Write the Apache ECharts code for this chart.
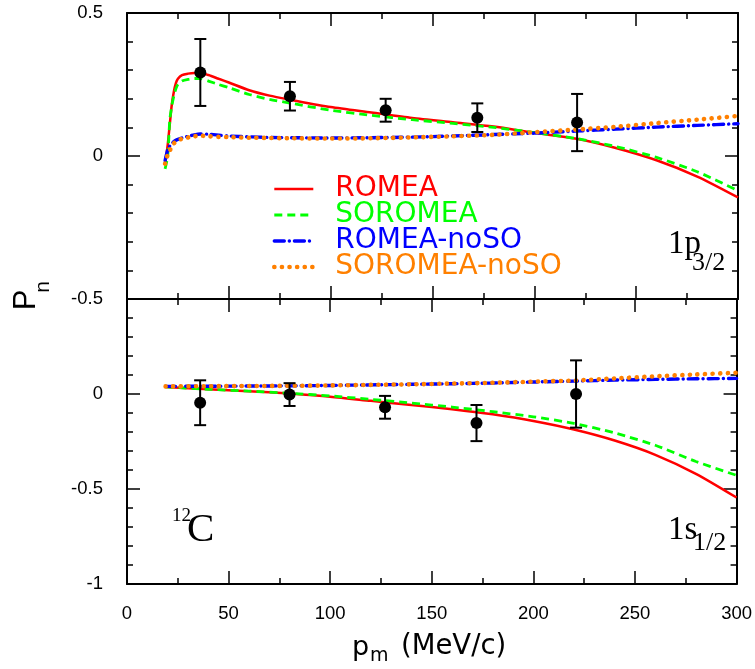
<!DOCTYPE html>
<html>
<head>
<meta charset="utf-8">
<script src="https://cdn.jsdelivr.net/npm/echarts@6/dist/echarts.min.js"></script>
<style>
html,body{margin:0;padding:0;background:#fff;}
#chart{width:755px;height:669px;}
</style>
</head>
<body>
<div id="chart"></div>
<script>
// ---------- DATA ----------
const seriesNames = ['ROMEA', 'SOROMEA', 'ROMEA-noSO', 'SOROMEA-noSO'];

// Top panel (1p3/2) theory curves
const topX = [18.7, 20, 21, 22, 23, 24, 25, 27, 30, 33, 36, 40, 45, 50, 60, 70, 80, 100, 120, 140, 160, 180, 200, 220, 240, 260, 280, 300];
const topRomea = [-0.027, 0.04, 0.11, 0.18, 0.225, 0.255, 0.27, 0.283, 0.288, 0.29, 0.29, 0.283, 0.27, 0.257, 0.23, 0.211, 0.197, 0.171, 0.152, 0.133, 0.118, 0.103, 0.081, 0.061, 0.028, -0.015, -0.072, -0.145];
const topSoromea = [-0.045, 0.0, 0.125, 0.175, 0.21, 0.235, 0.25, 0.262, 0.268, 0.271, 0.271, 0.262, 0.25, 0.239, 0.215, 0.198, 0.185, 0.16, 0.142, 0.127, 0.114, 0.1, 0.082, 0.062, 0.033, -0.005, -0.055, -0.121];
const topRomeaNoSO = [-0.016, 0.022, 0.035, 0.044, 0.05, 0.055, 0.058, 0.063, 0.069, 0.074, 0.077, 0.076, 0.073, 0.07, 0.067, 0.065, 0.064, 0.063, 0.064, 0.066, 0.07, 0.075, 0.08, 0.087, 0.094, 0.101, 0.107, 0.113];
const topSoromeaNoSO = [-0.027, 0.005, 0.019, 0.032, 0.044, 0.05, 0.055, 0.06, 0.065, 0.069, 0.071, 0.069, 0.067, 0.066, 0.064, 0.063, 0.062, 0.061, 0.062, 0.065, 0.069, 0.074, 0.083, 0.092, 0.102, 0.115, 0.127, 0.14];

// Bottom panel (1s1/2) theory curves
const botX = [19, 40, 60, 80, 100, 120, 140, 160, 180, 200, 220, 240, 260, 280, 300];
const botRomea = [0.037, 0.025, 0.015, 0.002, -0.014, -0.036, -0.058, -0.08, -0.107, -0.142, -0.187, -0.245, -0.32, -0.42, -0.545];
const botSoromea = [0.037, 0.025, 0.015, 0.004, -0.01, -0.028, -0.048, -0.069, -0.093, -0.12, -0.155, -0.205, -0.27, -0.355, -0.428];
const botRomeaNoSO = [0.04, 0.041, 0.042, 0.043, 0.045, 0.048, 0.051, 0.054, 0.058, 0.063, 0.068, 0.073, 0.077, 0.08, 0.082];
const botSoromeaNoSO = [0.04, 0.041, 0.042, 0.043, 0.045, 0.048, 0.051, 0.055, 0.059, 0.065, 0.071, 0.082, 0.093, 0.103, 0.112];

// Experimental points
const expX = [36, 80, 127, 172, 221];
const expTopY = [0.292, 0.209, 0.160, 0.134, 0.117];
const expTopErr = [0.117, 0.05, 0.04, 0.05, 0.1];
const expBotY = [-0.046, -0.003, -0.07, -0.153, 0.0];
const expBotErr = [0.118, 0.06, 0.06, 0.095, 0.177];

// ---------- STYLES ----------
const colors = ['#ff0000', '#00ff00', '#0000ff', '#ff8000'];
const lineStyles = [
  {width: 2.5, type: 'solid'},
  {width: 2.8, type: [8, 5]},
  {width: 3.4, type: [10, 5, 0.1, 5], cap: 'round'},
  {width: 4.6, type: [0.1, 7.5], cap: 'round'}
];

function zip(xs, ys) { return xs.map((x, i) => [x, ys[i]]); }
function zip3(xs, ys, es) { return xs.map((x, i) => [x, ys[i], es[i]]); }

const topCurves = [topRomea, topSoromea, topRomeaNoSO, topSoromeaNoSO];
const botCurves = [botRomea, botSoromea, botRomeaNoSO, botSoromeaNoSO];

const series = [];
[[topX, topCurves, 0], [botX, botCurves, 2]].forEach(([xs, curves, ai]) => {
  curves.forEach((ys, k) => {
    series.push({
      type: 'line', name: seriesNames[k], xAxisIndex: ai, yAxisIndex: ai,
      data: zip(xs, ys), showSymbol: false, symbol: 'none', smooth: 0.25,
      color: colors[k],
      lineStyle: Object.assign({color: colors[k]}, lineStyles[k]),
      z: 2 + k, silent: true
    });
  });
});

function errRender(params, api) {
  const x = api.value(0), y = api.value(1), e = api.value(2);
  const p1 = api.coord([x, y + e]);
  const p2 = api.coord([x, y - e]);
  const hw = 6;
  const st = {stroke: '#000', lineWidth: 2};
  return {type: 'group', children: [
    {type: 'line', shape: {x1: p1[0], y1: p1[1], x2: p2[0], y2: p2[1]}, style: st},
    {type: 'line', shape: {x1: p1[0] - hw, y1: p1[1], x2: p1[0] + hw, y2: p1[1]}, style: st},
    {type: 'line', shape: {x1: p2[0] - hw, y1: p2[1], x2: p2[0] + hw, y2: p2[1]}, style: st}
  ]};
}
[[expTopY, expTopErr, 0], [expBotY, expBotErr, 2]].forEach(([ys, es, ai]) => {
  series.push({type: 'custom', xAxisIndex: ai, yAxisIndex: ai, renderItem: errRender,
    data: zip3(expX, ys, es), z: 10, silent: true});
  series.push({type: 'scatter', xAxisIndex: ai, yAxisIndex: ai, data: zip(expX, ys),
    symbol: 'circle', symbolSize: 12, itemStyle: {color: '#000', opacity: 1}, z: 11, silent: true});
});

// ---------- AXES ----------
const axisLine = {show: true, onZero: false, lineStyle: {color: '#000', width: 2}};
const tickX = {show: true, inside: true, length: 13, lineStyle: {color: '#000', width: 1.5}};
const minorX = {show: true, splitNumber: 2, length: 6, lineStyle: {color: '#000', width: 1.5}};
const tickY = {show: true, inside: true, length: 13, lineStyle: {color: '#000', width: 1.5}};
const minorY = {show: true, splitNumber: 5, length: 6, lineStyle: {color: '#000', width: 1.5}};
const labelFont = {color: '#000', fontSize: 18.5, fontFamily: 'Liberation Sans, Arial, sans-serif'};

function xAx(grid, pos, showLabel) {
  return {type: 'value', gridIndex: grid, position: pos, min: 0, max: 300, interval: 50,
    axisLine: axisLine, axisTick: tickX, minorTick: minorX, splitLine: {show: false},
    axisLabel: Object.assign({show: showLabel, margin: 20}, labelFont)};
}
function yAx(grid, pos, min, showLabel) {
  return {type: 'value', gridIndex: grid, position: pos, min: min, max: 0.5, interval: 0.5,
    axisLine: axisLine, axisTick: tickY, minorTick: minorY, splitLine: {show: false},
    axisLabel: Object.assign({show: showLabel, margin: 24, showMaxLabel: grid === 0}, labelFont)};
}

const serif = 'Liberation Serif, Times New Roman, serif';
const sans = 'DejaVu Sans, sans-serif';
function txt(x, y, t, size, fam, rot) {
  const el = {type: 'text', x: x, y: y, silent: true, z: 100,
    style: {text: t, x: 0, y: 0, font: size + 'px ' + fam, fill: '#000',
      textAlign: rot ? 'center' : 'left', textVerticalAlign: 'middle'}};
  if (rot) el.rotation = Math.PI / 2;
  return el;
}

const option = {
  animation: false,
  backgroundColor: '#fff',
  grid: [
    {left: 127, right: 17, top: 13, height: 286},
    {left: 127, right: 17, top: 299, height: 285}
  ],
  xAxis: [xAx(0, 'bottom', false), xAx(0, 'top', false), xAx(1, 'bottom', true), xAx(1, 'top', false)],
  yAxis: [yAx(0, 'left', -0.5, true), yAx(0, 'right', -0.5, false), yAx(1, 'left', -1, true), yAx(1, 'right', -1, false)],
  legend: {
    left: 272, top: 175, orient: 'vertical', padding: 0, itemGap: -2,
    itemWidth: 39, itemHeight: 14, selectedMode: false,
    itemStyle: {opacity: 0},
    textStyle: {fontSize: 28, fontFamily: sans, lineHeight: 26, padding: [0, 0, 0, 17]},
    data: seriesNames.map((n, i) => ({name: n, itemStyle: {opacity: 0},
      lineStyle: Object.assign({color: colors[i]}, lineStyles[i]),
      textStyle: {color: colors[i]}}))
  },
  graphic: [
    txt(668, 244, '1p', 33, serif),
    txt(692, 263, '3/2', 26, serif),
    txt(668, 530, '1s', 33, serif),
    txt(693, 543, '1/2', 26, serif),
    txt(172, 516, '12', 19, serif),
    txt(187, 530, 'C', 41, serif),
    txt(26, 300, 'P', 31, 'Liberation Sans, Arial, sans-serif', true),
    txt(43, 287, 'n', 21, 'Liberation Sans, Arial, sans-serif', true),
    txt(352, 648, 'p', 27, sans),
    txt(370, 656, 'm', 19, sans),
    txt(401, 647, '(MeV/c)', 27.5, sans)
  ],
  series: series
};

const chart = echarts.init(document.getElementById('chart'), null, {renderer: 'canvas'});
chart.setOption(option);
</script>
</body>
</html>
